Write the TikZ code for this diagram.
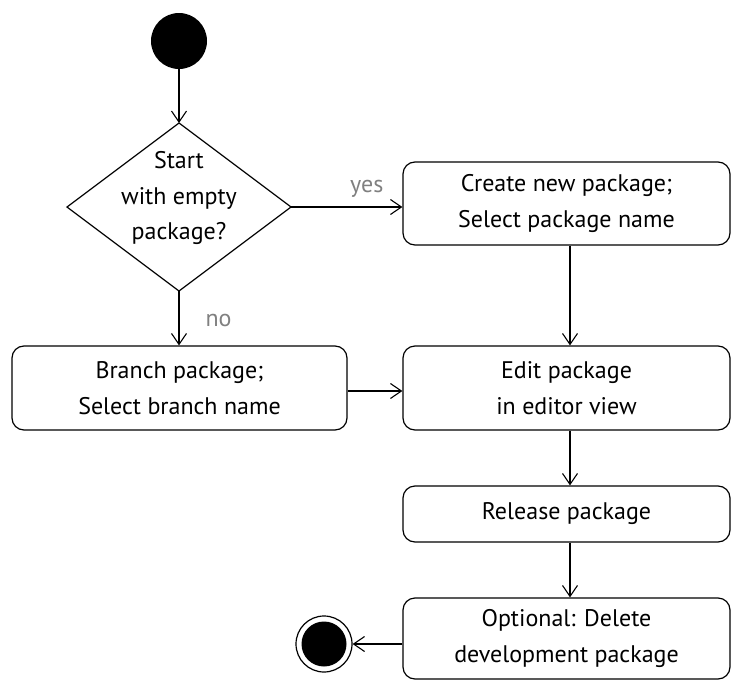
\documentclass[tikz,border=0pt]{standalone}
\usepackage{fontspec}
\setmainfont{PT Sans}
\usetikzlibrary{shapes.geometric,arrows.meta}
\begin{document}
\begin{tikzpicture}[x=1pt,y=-1pt,
  every node/.style={font=\fontsize{24}{35.5}\selectfont, align=center, inner sep=0pt},
  action/.style={draw, line width=1.2pt, rounded corners=12pt},
  flow/.style={line width=1.1pt, -{Straight Barb[length=11pt,width=15pt,line width=1.1pt]}},
  guard/.style={text=black!50}]
\useasboundingbox (0,0) rectangle (731,680);

% columns used by the vertical connectors
\coordinate (lcol) at (179,0);
\coordinate (rcol) at (570,0);

% start and end states
\node[circle, fill=black, minimum size=56pt] (start) at (179,41) {};
\node[circle, draw, line width=1.2pt, minimum size=56pt] (stopring) at (324,644) {};
\node[circle, fill=black, minimum size=45pt] (stop) at (324,644) {};

% decision: outline and its question
\coordinate (dtop) at (179,123);
\coordinate (dbot) at (179,291);
\coordinate (dleft) at (67,207);
\coordinate (dright) at (291,207);
\draw[line width=1.2pt] (dtop) -- (dright) -- (dbot) -- (dleft) -- cycle;
\node (dectext) at (179,198) {Start\\with empty\\package?};

% actions
\node[action, minimum width=327pt, minimum height=83pt] (create) at (566.5,203.5) {Create new package;\\Select package name};
\node[action, minimum width=335pt, minimum height=84pt] (branch) at (179.5,388) {Branch package;\\Select branch name};
\node[action, minimum width=327pt, minimum height=84pt] (edit) at (566.5,388) {Edit package\\in editor view};
\node[action, minimum width=327pt, minimum height=56pt] (release) at (566.5,514) {Release package};
\node[action, minimum width=327pt, minimum height=81pt] (optional) at (566.5,638.5) {Optional: Delete\\development package};

% connectors
\draw[flow] (start) -- (dtop);
\draw[flow] (dright) -- (create.west |- dright) node[guard, pos=0.68, above=9pt] {yes};
\draw[flow] (dbot) -- (branch.north -| lcol) node[guard, pos=0.55, right=26pt] {no};
\draw[flow] (create.south -| rcol) -- (edit.north -| rcol);
\draw[flow] (branch.east |- 0,391) -- (edit.west |- 0,391);
\draw[flow] (edit.south -| rcol) -- (release.north -| rcol);
\draw[flow] (release.south -| rcol) -- (optional.north -| rcol);
\draw[flow] (optional.west |- stop) -- (stopring.east);
\end{tikzpicture}
\end{document}
